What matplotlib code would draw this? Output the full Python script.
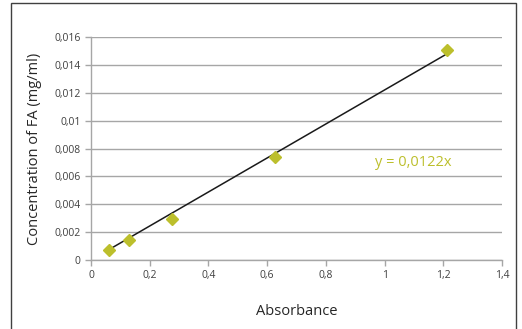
import numpy as np
from matplotlib import pyplot as plt
from matplotlib.patches import Rectangle
from matplotlib.ticker import FuncFormatter

absorbance = [0.063, 0.128, 0.276, 0.627, 1.212]
concentration = [0.00072, 0.00143, 0.00294, 0.0074, 0.01507]
slope = 0.0122
x_ticks = [0, 0.2, 0.4, 0.6, 0.8, 1, 1.2, 1.4]
y_ticks = [0, 0.002, 0.004, 0.006, 0.008, 0.01, 0.012, 0.014, 0.016]

plt.rcParams['font.family'] = ['Open Sans', 'DejaVu Sans']

fig = plt.figure(figsize=(5.22, 3.29), dpi=100)
ax = fig.add_axes([91/522, 1-260/329, 411/522, 223/329])

grey = '#a6a6a6'
green = '#bcbf2c'

fx = np.array([min(absorbance), max(absorbance)])
ax.plot(fx, slope*fx, color='#1a1a1a', lw=1.1, zorder=3)
ax.plot(absorbance, concentration, 'D', color=green, ms=6.5, zorder=4)

ax.set_xlim(0, 1.4)
ax.set_ylim(0, 0.016)
ax.set_xticks(x_ticks)
ax.set_yticks(y_ticks)

def comma(v, pos):
    s = ('%.3f' % v).rstrip('0').rstrip('.')
    return s.replace('.', ',')

ax.xaxis.set_major_formatter(FuncFormatter(comma))
ax.yaxis.set_major_formatter(FuncFormatter(comma))
ax.yaxis.grid(True, color=grey, lw=1.0)
ax.set_axisbelow(True)
for s in ['top', 'right']:
    ax.spines[s].set_visible(False)
for s in ['left', 'bottom']:
    ax.spines[s].set_color(grey)
    ax.spines[s].set_linewidth(1.0)
ax.tick_params(colors=grey, length=4, width=1.0, labelsize=7.5, labelcolor='#404040')

ax.set_xlabel('Absorbance', fontsize=10.5, color='#262626', labelpad=16)
ax.set_ylabel('Concentration of FA (mg/ml)', fontsize=10.5, color='#262626', labelpad=9)

ax.text(0.967, 0.00696, 'y = 0,0122x', color=green, fontsize=10.5, va='center')

fig.patches.append(Rectangle((11/522, -0.05), 505/522, 1.05 - 3/329, transform=fig.transFigure,
                             fill=False, edgecolor='#404040', lw=1.0))

plt.savefig('out.png', dpi=100)
